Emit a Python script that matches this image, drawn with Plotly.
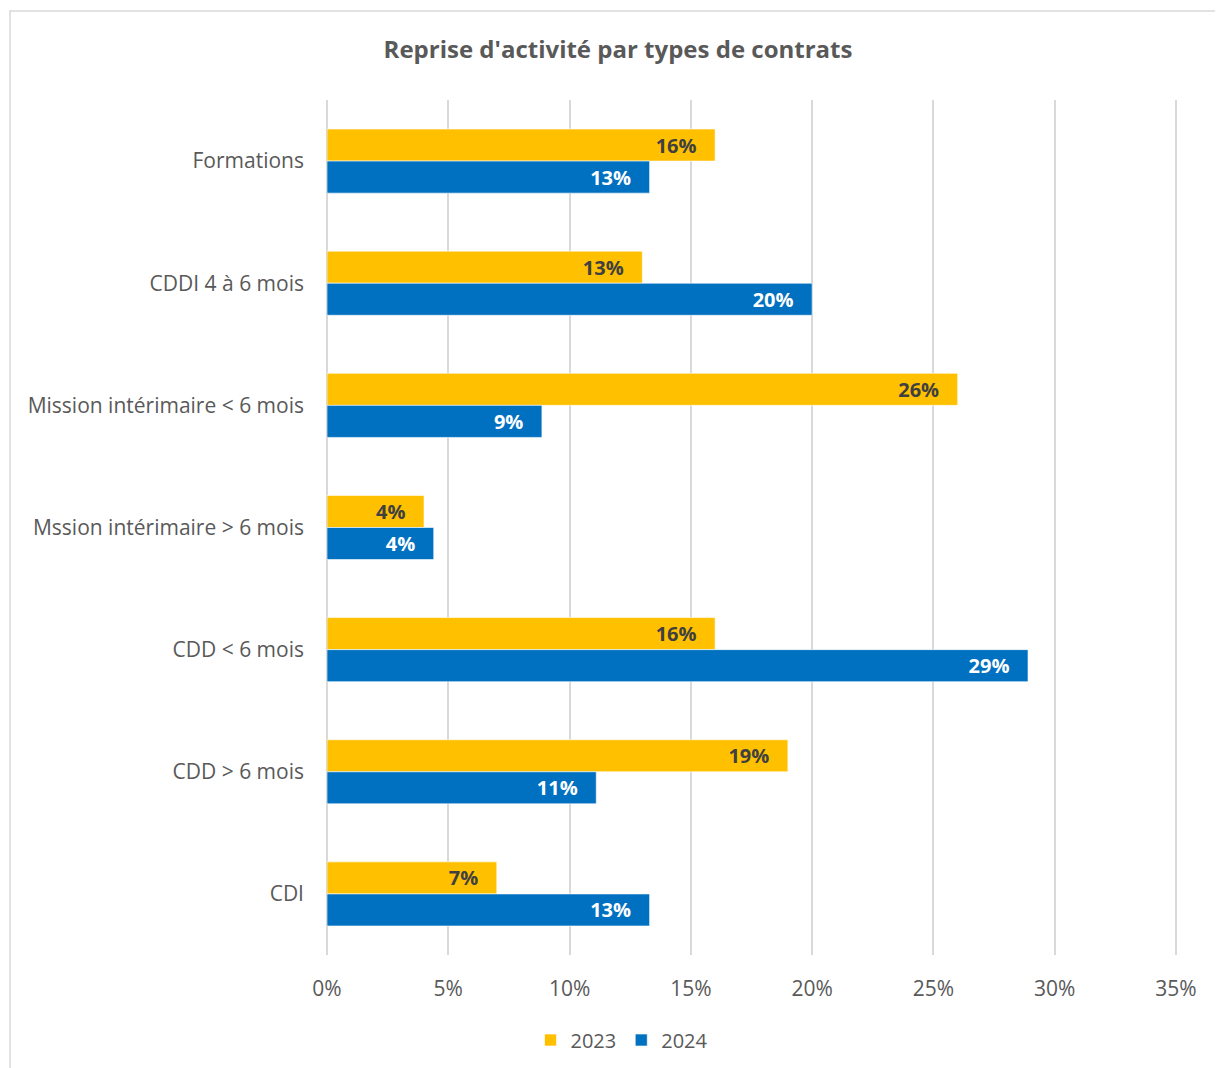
import plotly.graph_objects as go

categories = ["Formations", "CDDI 4 à 6 mois", "Mission intérimaire < 6 mois",
              "Mssion intérimaire > 6 mois", "CDD < 6 mois", "CDD > 6 mois", "CDI"]
values_2023 = [0.16, 0.13, 0.26, 0.04, 0.16, 0.19, 0.07]
values_2024 = [0.133, 0.20, 0.0886, 0.044, 0.289, 0.111, 0.133]
tick_vals = [0, 0.05, 0.10, 0.15, 0.20, 0.25, 0.30, 0.35]
tick_text = ["0%", "5%", "10%", "15%", "20%", "25%", "30%", "35%"]

FONT = "Open Sans, sans-serif"
OFF = 8  # page body margin
EXTRA = 4  # px beyond last gridline so it is drawn
W, H = 1223 - OFF, 1068 - OFF
L = 327 - OFF
T = 100 - OFF
R = W - (1176 - OFF) - EXTRA
B = H - (955 - OFF)
XMAX = 0.35 * (1 + EXTRA / (1176 - 327))
PAD = "\u00a0\u00a0\u00a0"

fig = go.Figure()
fig.add_trace(go.Bar(
    y=categories, x=values_2023, name="2023", orientation="h",
    marker=dict(color="#FFC000", line=dict(color="rgba(255,255,255,0.6)", width=1)),
    texttemplate="<b>%{x:.0%}</b>" + PAD, textposition="inside", insidetextanchor="end",
    textangle=0, constraintext="none",
    textfont=dict(family=FONT, size=20, color="#404040"),
))
fig.add_trace(go.Bar(
    y=categories, x=values_2024, name="2024", orientation="h",
    marker=dict(color="#0070C0", line=dict(color="rgba(255,255,255,0.6)", width=1)),
    texttemplate="<b>%{x:.0%}</b>" + PAD, textposition="inside", insidetextanchor="end",
    textangle=0, constraintext="none",
    textfont=dict(family=FONT, size=20, color="#FFFFFF"),
))

pw = W - L - R
ph = H - T - B
fig.add_shape(type="rect", xref="paper", yref="paper",
              x0=(2 - L) / pw, x1=(W + 20 - L) / pw,
              y0=-(B + 20) / ph, y1=(H - B - 3) / ph,
              line=dict(color="#D9D9D9", width=1.5), fillcolor="rgba(0,0,0,0)", layer="below")

fig.update_layout(
    width=W, height=H,
    margin=dict(l=L, r=R, t=T, b=B),
    paper_bgcolor="white", plot_bgcolor="white",
    barmode="group", bargap=0.475, bargroupgap=0,
    font=dict(family=FONT, color="#595959"),
    title=dict(text="<b>Reprise d'activité par types de contrats</b>",
               x=610 / W, xanchor="center", xref="container",
               y=1 - 42 / H, yanchor="middle", yref="container",
               font=dict(family=FONT, size=24, color="#595959")),
    xaxis=dict(range=[0, XMAX], tickvals=tick_vals, ticktext=tick_text,
               showgrid=True, gridcolor="#D9D9D9", gridwidth=2,
               zeroline=True, zerolinecolor="#D9D9D9", zerolinewidth=2,
               showline=False, ticks="",
               ticklabelstandoff=19,
               tickfont=dict(family=FONT, size=21, color="#595959")),
    yaxis=dict(autorange="reversed", showgrid=False, zeroline=False, showline=False,
               ticks="", ticklabelstandoff=22,
               tickfont=dict(family=FONT, size=21, color="#595959")),
    legend=dict(orientation="h", xref="container", yref="container",
                x=614 / W, xanchor="center", y=1 - 1032 / H, yanchor="middle",
                font=dict(family=FONT, size=20, color="#595959"),
                traceorder="normal"),
    showlegend=True,
)
fig.write_html("out.html")
